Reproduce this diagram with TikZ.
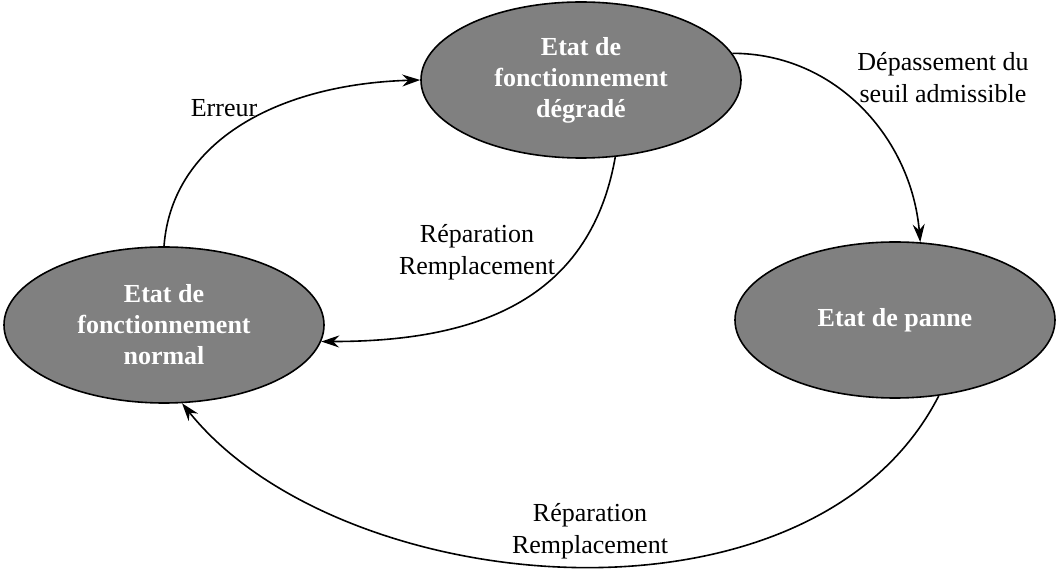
\documentclass[tikz,border=0pt]{standalone}
\usepackage{fontspec}
\setmainfont{Liberation Serif}
\usepackage{tikz}
\usetikzlibrary{positioning,shapes.geometric,arrows.meta}

\begin{document}
\begin{tikzpicture}[
	x=0.5pt, y=-0.5pt,
	etat/.style={ellipse, draw=black, line width=0.8pt, fill=black!50, inner sep=0pt,
		minimum width=160pt, minimum height=78pt, text=white, align=center,
		font=\fontsize{13}{15.5}\selectfont\bfseries},
	trans/.style={align=center, font=\fontsize{13}{16}\selectfont, inner sep=0pt},
	fleche/.style={line width=0.8pt, -{Stealth[length=9pt,width=6pt,inset=3pt]}}
	]
	\useasboundingbox (0,0) rectangle (1057,572);
	% les trois etats
	\node (deg) [etat] at (581,80) {Etat de\\fonctionnement\\dégradé};
	\node (norm) [etat] at (164,325) {Etat de\\fonctionnement\\normal};
	\node (panne) [etat] at (895,320) {Etat de panne};
	% transitions
	\draw[fleche] (norm.north) .. controls (172,140) and (280,84) .. (deg.west);
	\draw[fleche] (deg.-66) to[out=-100, in=0, looseness=1.1] (norm.-6);
	\draw[fleche] (deg.10) to[out=0, in=95, looseness=1.0] (panne.72);
	\draw[fleche] (panne.-60) .. controls (812,644) and (340,600) .. (norm.-77);
	% textes
	\node (erreur) [trans] at (224,108) {Erreur};
	\node (rep1) [trans] at (477,252) {Réparation\\Remplacement};
	\node (dep) [trans] at (943,78) {Dépassement du\\seuil admissible};
	\node (rep2) [trans] at (590,531) {Réparation\\Remplacement};
\end{tikzpicture}
\end{document}
